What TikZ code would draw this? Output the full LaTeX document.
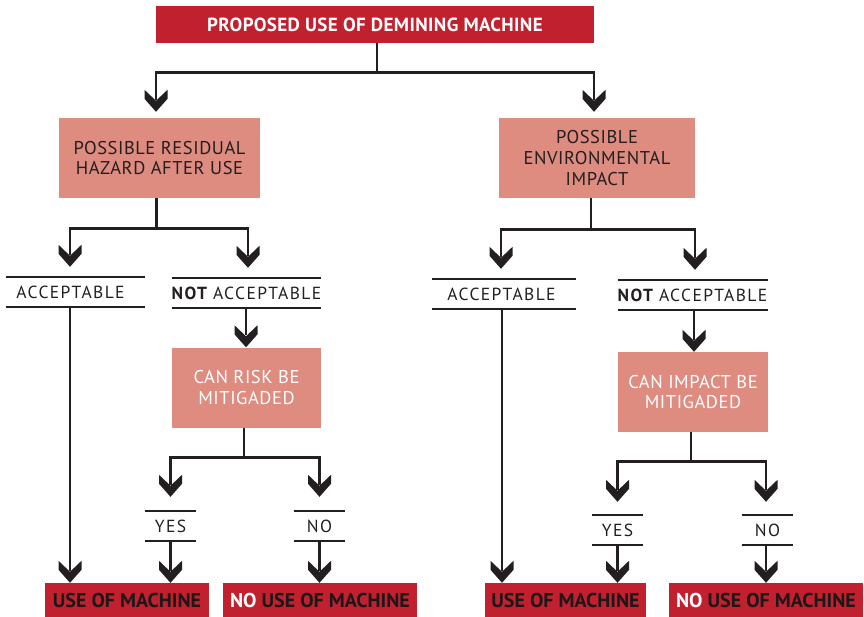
\documentclass[tikz,border=0pt]{standalone}
\usepackage{fontspec}
\setmainfont{PT Sans}
\usetikzlibrary{calc}
\definecolor{redc}{HTML}{C1202F}
\definecolor{salmon}{HTML}{DE8B80}
\definecolor{ink}{HTML}{231F20}
\definecolor{ink2}{HTML}{1C1718}
\pgfdeclarearrow{
  name = Chev,
  setup code = {
    \pgfarrowssettipend{0pt}
    \pgfarrowssetlineend{-12pt}
    \pgfarrowssetvisualbackend{-22pt}
    \pgfarrowssetbackend{-22pt}
    \pgfarrowshullpoint{0pt}{0pt}
    \pgfarrowsupperhullpoint{-22pt}{11pt}
  },
  drawing code = {
    \pgfsetfillcolor{ink}
    \pgfpathmoveto{\pgfqpoint{0pt}{0pt}}
    \pgfpathlineto{\pgfqpoint{-13pt}{11.5pt}}
    \pgfpathlineto{\pgfqpoint{-22pt}{11.5pt}}
    \pgfpathlineto{\pgfqpoint{-11pt}{0pt}}
    \pgfpathlineto{\pgfqpoint{-22pt}{-11.5pt}}
    \pgfpathlineto{\pgfqpoint{-13pt}{-11.5pt}}
    \pgfpathclose
    \pgfusepathqfill
  }
}
\begin{document}
\begin{tikzpicture}[x=1pt,y=-1pt,
  redbox/.style={fill=redc, text=white, inner sep=0pt, font=\bfseries\addfontfeatures{LetterSpace=2}\fontsize{19}{20}\selectfont},
  endbox/.style={fill=redc, text=ink2, inner sep=0pt, minimum height=34pt, font=\bfseries\fontsize{20}{20}\selectfont},
  salbox/.style={fill=salmon, text=ink, inner sep=0pt, align=center, minimum height=80pt, font=\addfontfeatures{LetterSpace=3}\fontsize{18.5}{20.7}\selectfont},
  rule/.style={draw=ink, line width=2.4pt, -},
  rulebox/.style={inner sep=0pt, minimum height=30pt, minimum width=#1, text=ink,
    font=\addfontfeatures{LetterSpace=8}\fontsize{17.5}{20}\selectfont,
    append after command={(\tikzlastnode.north west) edge[rule] (\tikzlastnode.north east)
      (\tikzlastnode.south west) edge[rule] (\tikzlastnode.south east)}},
  wire/.style={draw=ink, line width=2.8pt},
  conn/.style={wire, -{Chev}}
]
\useasboundingbox (0,0) rectangle (864,617);
% nodes
\node[redbox, minimum width=438pt, minimum height=37pt] (top) at (375,24.5) {PROPOSED USE OF DEMINING MACHINE};
\node[salbox, minimum width=201pt] (L1) at (159.5,158) {POSSIBLE RESIDUAL\\HAZARD AFTER USE};
\node[salbox, minimum width=196pt] (R1) at (597,158) {POSSIBLE\\ENVIRONMENTAL\\IMPACT};
\node[rulebox=139pt] (accL) at (75.5,292) {ACCEPTABLE\hspace*{10pt}};
\node[rulebox=149pt] (naL) at (246.5,293) {{\bfseries NOT} ACCEPTABLE};
\node[salbox, text=white, minimum width=149pt] (crL) at (246.5,387.5) {CAN RISK BE\\MITIGADED};
\node[rulebox=51pt] (yesL) at (170.5,526) {YES};
\node[rulebox=51pt] (noL) at (319.5,526) {NO};
\node[endbox, minimum width=164pt] (uL) at (127,600) {USE OF MACHINE};
\node[endbox, minimum width=194pt] (nuL) at (320,600) {\textcolor{white}{NO} USE OF MACHINE};
\node[rulebox=144pt] (accR) at (504,294) {ACCEPTABLE\hspace*{5pt}};
\node[rulebox=149pt] (naR) at (692.5,295) {{\bfseries NOT} ACCEPTABLE};
\node[salbox, text=white, minimum width=150pt] (crR) at (693,392) {CAN IMPACT BE\\MITIGADED};
\node[rulebox=51pt] (yesR) at (617.5,530) {YES};
\node[rulebox=51pt] (noR) at (767.5,530) {NO};
\node[endbox, minimum width=161pt] (uR) at (565.5,600) {USE OF MACHINE};
\node[endbox, minimum width=194pt] (nuR) at (766,600) {\textcolor{white}{NO} USE OF MACHINE};
% top split
\draw[wire] ([xshift=2pt]top.south) -- ++(0,29) coordinate (j0);
\draw[conn, shorten >=6pt] (j0) -| ([xshift=-3.5pt]L1.north);
\draw[conn, shorten >=6pt] (j0) -| ([xshift=-3pt]R1.north);
% left tree
\draw[wire] ([xshift=-3pt]L1.south) -- ++(0,30) coordinate (jL);
\draw[conn, shorten >=10pt] (jL) -| ([xshift=-5.5pt]accL.north);
\draw[conn, shorten >=10pt] (jL) -| ([xshift=1.5pt]naL.north);
\draw[conn] ([xshift=-5.5pt]accL.south) -- ([xshift=-5.5pt]accL.south |- uL.north);
\draw[conn] ([xshift=-0.5pt]naL.south) -- ([xshift=-0.5pt]crL.north);
\draw[wire] ([xshift=-2.5pt]crL.south) -- ++(0,30) coordinate (jL2);
\draw[conn, shorten >=14pt] (jL2) -| (yesL.north);
\draw[conn, shorten >=14pt] (jL2) -| (noL.north);
\draw[conn] (yesL.south) -- (yesL.south |- uL.north);
\draw[conn] (noL.south) -- (noL.south |- nuL.north);
% right tree
\draw[wire] ([xshift=-6pt]R1.south) -- ++(0,31) coordinate (jR);
\draw[conn, shorten >=10pt] (jR) -| ([xshift=-3pt]accR.north);
\draw[conn, shorten >=10pt] (jR) -| ([xshift=2.5pt]naR.north);
\draw[conn] ([xshift=-2pt]accR.south) -- ([xshift=-2pt]accR.south |- uR.north);
\draw[conn] ([xshift=1.5pt]naR.south) -- ([xshift=1.5pt]naR.south |- crR.north);
\draw[wire] ([xshift=-2pt]crR.south) -- ++(0,29) coordinate (jR2);
\draw[conn, shorten >=13pt] (jR2) -| (yesR.north);
\draw[conn, shorten >=13pt] (jR2) -| ([xshift=-1.5pt]noR.north);
\draw[conn] (yesR.south) -- (yesR.south |- uR.north);
\draw[conn] ([xshift=-1.5pt]noR.south) -- ([xshift=-1.5pt]noR.south |- nuR.north);
\end{tikzpicture}
\end{document}
